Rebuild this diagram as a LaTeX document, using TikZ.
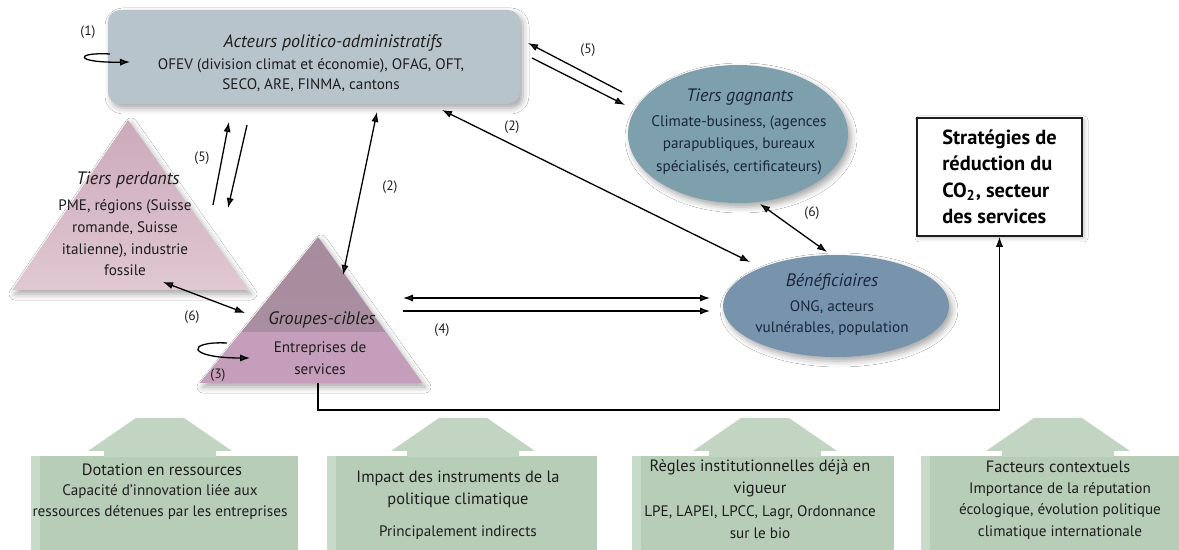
\documentclass[tikz,border=0pt]{standalone}
\usepackage{fontspec}
\setmainfont{PT Sans}
\usetikzlibrary{arrows.meta,shadows.blur,shapes.geometric}
\definecolor{actfill}{RGB}{184,196,204}
\definecolor{perdtop}{RGB}{204,170,186}
\definecolor{perdbot}{RGB}{224,200,210}
\definecolor{grptop}{RGB}{166,140,158}
\definecolor{grpbot}{RGB}{196,158,186}
\definecolor{gagfill}{RGB}{126,160,173}
\definecolor{benfill}{RGB}{120,148,172}
\definecolor{grnbody}{RGB}{184,205,184}
\definecolor{grnlight}{RGB}{200,218,200}
\definecolor{grnhead}{RGB}{194,212,194}
\definecolor{inkblue}{RGB}{25,38,60}
\definecolor{ink}{RGB}{30,30,30}
\newcommand\blockarr[3]{%
  \fill[grnbody] (#2,456) rectangle (#3,550);
  \fill[grnlight] (#2,456) rectangle ({#2+9},550);
  \fill[grnhead] ({#1-72},451) -- ({#1-24},418) -- ({#1+24},418) -- ({#1+72},451) -- ({#1+56},451) -- ({#1+56},457) -- ({#1-56},457) -- ({#1-56},451) -- cycle;
}
\begin{document}
\begin{tikzpicture}[x=0.5pt,y=-0.5pt,
  lbl/.style={font=\fontsize{6.8}{8}\selectfont,text=ink,inner sep=0pt},
  bodytxt/.style={font=\fontsize{7.6}{10.8}\selectfont,align=center,text=ink,inner sep=0pt},
  ttl/.style={font=\fontsize{9}{11}\selectfont\itshape,text=ink,inner sep=0pt},
  headtxt/.style={font=\fontsize{8.2}{11}\selectfont,align=center,text=ink,inner sep=0pt},
  tip/.style={line width=0.65pt,-{Latex[length=5pt,width=3.6pt]}},
  tips/.style={line width=0.65pt,{Latex[length=5pt,width=3.6pt]}-{Latex[length=5pt,width=3.6pt]}},
  shd/.style={blur shadow={shadow xshift=1.5pt,shadow yshift=-2pt,shadow blur radius=3pt,shadow opacity=35}},
]
\useasboundingbox (0,0) rectangle (1179,550);
\fill[white] (0,0) rectangle (1179,550);

% ---- bottom block arrows
\blockarr{160}{31}{298}
\blockarr{463}{327}{597}
\blockarr{765}{632}{894}
\blockarr{1058}{921}{1179}

% ---- shapes
\node[fill=actfill, rounded corners=6pt, minimum width=206pt, minimum height=47pt, shd] (act) at (314,57) {};
\shade[shd, top color=perdtop, bottom color=perdbot] (128,120) -- (248,290) -- (12,290) -- cycle;
\shade[shd, top color=grptop, bottom color=grptop!80!grpbot] (318,237) -- (422,383) -- (200,383) -- cycle;
\begin{scope}
  \clip (318,237) -- (422,383) -- (200,383) -- cycle;
  \fill[grpbot] (190,332) rectangle (430,390);
\end{scope}
\node[ellipse, shd, fill=gagfill, minimum width=110pt, minimum height=69pt, inner sep=0pt] (gag) at (738,134) {};
\node[ellipse, shd, fill=benfill, minimum width=113pt, minimum height=51pt, inner sep=0pt] (ben) at (836,306) {};
\node[draw=ink, line width=0.8pt, fill=white, minimum width=82.5pt, minimum height=59pt, align=left,
      font=\fontsize{10.2}{13.2}\selectfont\bfseries, inner sep=0pt,
      blur shadow={shadow xshift=1pt,shadow yshift=-1pt,shadow blur radius=2pt,shadow opacity=25}]
      (strat) at (999.5,177) {Stratégies de\\réduction du\\CO\textsubscript{2}, secteur\\des services};

% ---- texts
\node[ttl] (actT) at (333,43) {Acteurs politico-administratifs};
\node[bodytxt,font=\fontsize{7.6}{10}\selectfont] (actB) at (311,75) {OFEV (division climat et économie), OFAG, OFT,\\SECO, ARE, FINMA, cantons};
\node[ttl] (perdT) at (128,180) {Tiers perdants};
\node[bodytxt] (perdB) at (125,238) {PME, régions (Suisse\\romande, Suisse\\italienne), industrie\\fossile};
\node[ttl] (grpT) at (322,320) {Groupes-cibles};
\node[bodytxt] (grpB) at (320,358) {Entreprises de\\services};
\node[ttl,text=inkblue] (gagT) at (740,97) {Tiers gagnants};
\node[bodytxt,text=inkblue,font=\fontsize{7.6}{11.2}\selectfont] (gagB) at (739,145) {Climate-business, (agences\\parapubliques, bureaux\\spécialisés, certificateurs)};
\node[ttl,text=inkblue] (benT) at (832,282) {Bénéficiaires};
\node[bodytxt,text=inkblue] (benB) at (832,318) {ONG, acteurs\\vulnérables, population};

\node[headtxt] (b1T) at (162,470) {Dotation en ressources};
\node[bodytxt] (b1B) at (160,502) {Capacité d’innovation liée aux\\ressources détenues par les entreprises};
\node[headtxt] (b2T) at (458,489) {Impact des instruments de la\\politique climatique};
\node[bodytxt] (b2B) at (458,533) {Principalement indirects};
\node[headtxt] (b3T) at (760,478) {Règles institutionnelles déjà en\\vigueur};
\node[bodytxt] (b3B) at (760,522) {LPE, LAPEI, LPCC, Lagr, Ordonnance\\sur le bio};
\node[headtxt] (b4T) at (1058,467) {Facteurs contextuels};
\node[bodytxt] (b4B) at (1060,511) {Importance de la réputation\\écologique, évolution politique\\climatique internationale};

% ---- labels
\node[lbl] (n1) at (88,32) {(1)};
\node[lbl] (n5a) at (202,158) {(5)};
\node[lbl] (n2a) at (390,187) {(2)};
\node[lbl] (n2b) at (512,127) {(2)};
\node[lbl] (n5b) at (588,50) {(5)};
\node[lbl] (n6a) at (812,213) {(6)};
\node[lbl] (n6b) at (192,317) {(6)};
\node[lbl] (n4) at (442,330) {(4)};
\node[lbl] (n3) at (218,375) {(3)};

% ---- connector end points
\coordinate (l1s) at (110,54);
\coordinate (l1e) at (130,62);
\coordinate (p5up1) at (213,205);
\coordinate (p5up2) at (229,122);
\coordinate (p5dn1) at (247,125);
\coordinate (p5dn2) at (228,208);
\coordinate (g2a) at (343,275);
\coordinate (a2a) at (377,112);
\coordinate (a2b) at (442,110);
\coordinate (b2b) at (750,262);
\coordinate (g5a) at (622,92);
\coordinate (a5a) at (528,43);
\coordinate (a5b) at (532,58);
\coordinate (g5b) at (625,105);
\coordinate (g6) at (760,204);
\coordinate (b6) at (827,252);
\coordinate (pf6) at (163,282);
\coordinate (g6b) at (245,313);
\coordinate (g4a) at (403,298);
\coordinate (b4a) at (710,298);
\coordinate (g4b) at (403,311);
\coordinate (b4b) at (710,311);
\coordinate (l3s) at (227,343);
\coordinate (l3e) at (250,358);
\coordinate (gbase) at (318,383);
\coordinate (turn) at (318,410);

% ---- connectors
\draw[tip] (l1s) .. controls (74,52) and (74,63) .. (l1e);
\draw[tip] (p5up1) -- (p5up2);
\draw[tip] (p5dn1) -- (p5dn2);
\draw[tips] (g2a) -- (a2a);
\draw[tips] (a2b) -- (b2b);
\draw[tip] (g5a) -- (a5a);
\draw[tip] (a5b) -- (g5b);
\draw[tips] (g6) -- (b6);
\draw[tips] (pf6) -- (g6b);
\draw[tips] (g4a) -- (b4a);
\draw[tip] (g4b) -- (b4b);
\draw[tip] (l3s) .. controls (186,341) and (186,358) .. (l3e);
\draw[tip] (gbase) -- (turn) -| (strat.south);
\end{tikzpicture}
\end{document}
